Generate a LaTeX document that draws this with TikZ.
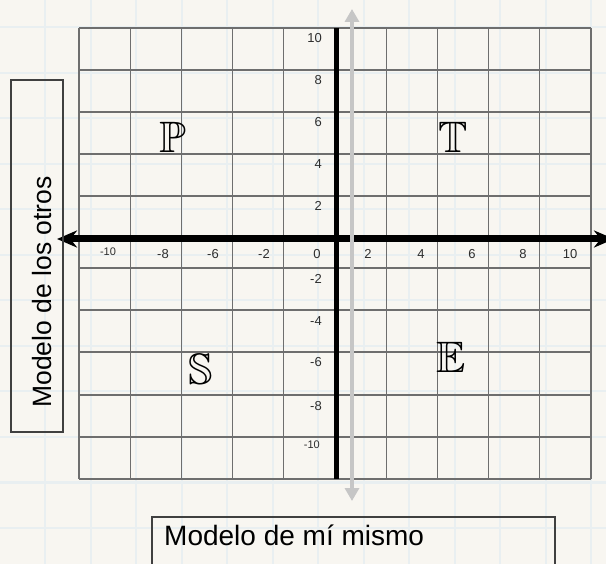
\documentclass[tikz,border=0pt]{standalone}
\usepackage{fontspec}
\setmainfont{Liberation Sans}
\usepackage{amssymb}
\usetikzlibrary{arrows.meta, positioning}
\definecolor{paper}{RGB}{248,246,241}
\definecolor{paperline}{RGB}{233,239,241}
\definecolor{gridline}{RGB}{110,110,110}
\definecolor{ticktext}{RGB}{45,45,45}
\definecolor{selfaxis}{RGB}{198,198,198}

\begin{document}
\begin{tikzpicture}[
  x=1pt, y=-1pt,
  every node/.style={inner sep=0pt},
  ticklabel/.style={font=\fontsize{13}{13}\selectfont, text=ticktext},
  quadrant/.style={font=\fontsize{44}{44}\selectfont},
  labelbox/.style={draw=black!75, line width=1.3pt},
  >=Stealth
]

\clip (0,0) rectangle (606,564);
\fill[paper] (0,0) rectangle (606,564);

% paper background
\foreach \x in {0,...,12}
  \draw[paperline, line width=2pt] ({45+45.5*\x},0) -- ({45+45.5*\x},564);
\foreach \y in {0,...,11}
  \draw[paperline, line width=2pt] (0,{27.5+45.5*\y}) -- (606,{27.5+45.5*\y});

% grid
\foreach \i in {0,...,10}
  \draw[gridline, line width=1.3pt] ({79+51.2*\i},28) -- ({79+51.2*\i},479);
\foreach \y in {28,70,112,154,196,238,268,310,352,395,437,479}
  \draw[gridline, line width=1.3pt] (79,\y) -- (591,\y);

% tick labels
\foreach \x/\t in {163/-8, 213/-6, 264/-2, 317/0, 368/2, 421/4, 472/6, 523/8, 570/10}
  \node[ticklabel] (xl\t) at (\x,254) {\t};
\node[ticklabel, font=\fontsize{11}{11}\selectfont] (xlm10) at (108,252) {-10};
\foreach \y/\t in {38/10, 80/8, 122/6, 164/4, 206/2, 279/-2, 321/-4, 362/-6, 406/-8}
  \node[ticklabel, anchor=east] (yl\t) at (322,\y) {\t};
\node[ticklabel, anchor=east, font=\fontsize{11}{11}\selectfont] (ylm10) at (320,445) {-10};

% axes
\coordinate (otrosL) at (57,239);
\coordinate (otrosR) at (614,239);
\coordinate (yTop) at (336,28);
\coordinate (yBot) at (336,479);
\draw[line width=5pt] (yTop) -- (yBot);
\draw[<->, line width=7pt, >={Stealth[length=20pt, width=17pt]}] (otrosL) -- (otrosR);

\coordinate (mismoT) at (352,9);
\coordinate (mismoB) at (352,501);
\draw[<->, selfaxis, line width=4pt, >={Triangle[length=13pt, width=14pt]}] (mismoB) -- (mismoT);

% quadrants
\node[quadrant] (qP) at (173,137) {$\mathbb{P}$};
\node[quadrant] (qT) at (453,137) {$\mathbb{T}$};
\node[quadrant] (qS) at (201,369) {$\mathbb{S}$};
\node[quadrant] (qE) at (451,357) {$\mathbb{E}$};

% axis titles
\node[labelbox, minimum width=52pt, minimum height=352pt] (otrosbox) at (37,256) {};
\node[rotate=90, font=\fontsize{26.5}{26.5}\selectfont] (otros) at (42,292) {Modelo de los otros};

\node[labelbox, minimum width=403pt, minimum height=60pt] (mismobox) at (353.5,547) {};
\node[anchor=base west, font=\fontsize{28}{28}\selectfont] (mismo) at (164,545) {Modelo de mí mismo};

\end{tikzpicture}
\end{document}
